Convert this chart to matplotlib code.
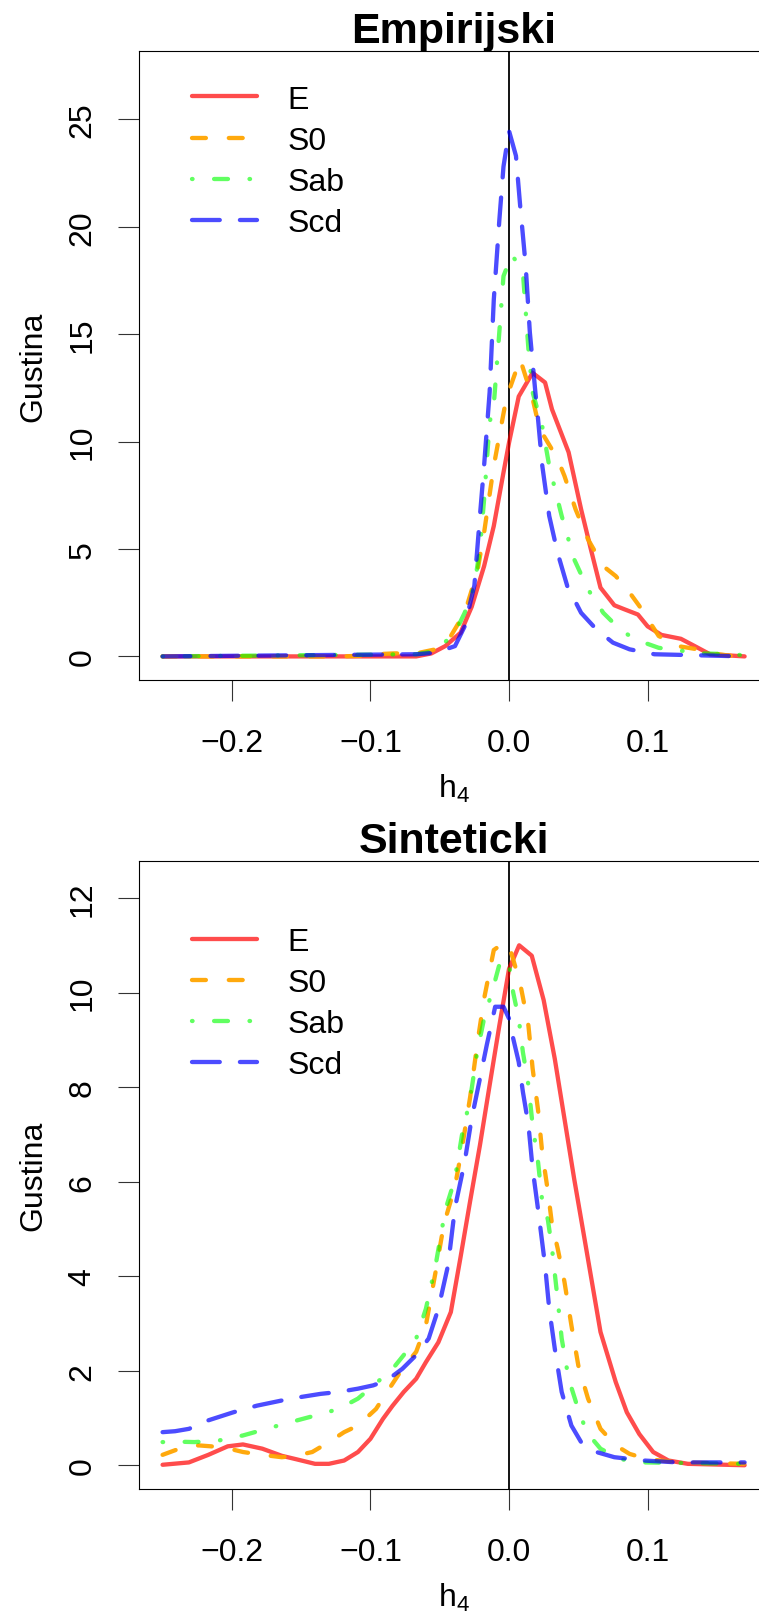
import matplotlib
matplotlib.use("Agg")
import matplotlib.pyplot as plt

# ---- data (density of h4) ----
series_names = ["E", "S0", "Sab", "Scd"]

# Empirijski
emp_e_x = [-0.25, -0.07, -0.067, -0.056, -0.046, -0.035, -0.027, -0.018, -0.011, -0.004, 0.0, 0.007,
           0.017, 0.026, 0.031, 0.043, 0.052, 0.059, 0.066, 0.076, 0.083, 0.093, 0.1, 0.11, 0.124,
           0.134, 0.145, 0.17]
emp_e_y = [0, 0, 0, 0.14, 0.48, 1.1, 2.3, 4.2, 6.07, 8.56, 9.95, 12.1,
           13.2, 12.75, 11.5, 9.5, 6.85, 5.0, 3.2, 2.38, 2.2, 1.95, 1.4, 1.0, 0.82,
           0.48, 0.1, 0.0]

emp_s0_x = [-0.25, -0.12, -0.1, -0.09, -0.083, -0.067, -0.053, -0.042, -0.032, -0.023, -0.018, -0.011,
            -0.002, 0.008, 0.017, 0.022, 0.035, 0.04, 0.048, 0.057, 0.068, 0.077, 0.087, 0.094,
            0.108, 0.122, 0.136, 0.146, 0.16, 0.17]
emp_s0_y = [0, 0, 0.05, 0.12, 0.14, 0.14, 0.33, 0.95, 2.03, 3.9, 5.76, 8.87,
            12.0, 13.84, 12.0, 10.6, 9.2, 8.4, 6.85, 5.45, 4.2, 3.74, 2.97, 2.35,
            0.95, 0.48, 0.33, 0.14, 0.03, 0]

emp_sab_x = [-0.25, -0.067, -0.053, -0.039, -0.032, -0.025, -0.021, -0.018, -0.014, -0.011, -0.007,
             -0.004, 0.002, 0.01, 0.014, 0.017, 0.024, 0.029, 0.038, 0.047, 0.057, 0.068, 0.08,
             0.091, 0.108, 0.126, 0.14, 0.16, 0.17]
emp_sab_y = [0, 0.1, 0.25, 1.1, 2.03, 3.3, 5.0, 7.3, 10.9, 11.7, 15.1,
             17.7, 18.7, 17.9, 14.3, 12.3, 10.7, 8.87, 6.54, 4.52, 3.12, 2.03, 1.26,
             0.79, 0.4, 0.25, 0.14, 0.1, 0.05]

emp_scd_x = [-0.25, -0.067, -0.053, -0.039, -0.032, -0.025, -0.021, -0.018, -0.014, -0.011, -0.007,
             -0.004, 0.0, 0.005, 0.008, 0.012, 0.015, 0.019, 0.021, 0.024, 0.029, 0.035, 0.042,
             0.052, 0.063, 0.075, 0.087, 0.105, 0.17]
emp_scd_y = [0, 0.1, 0.17, 0.48, 1.4, 3.3, 6.54, 8.87, 12.3, 16.6, 20.3,
             22.8, 24.46, 23.3, 21.0, 18.2, 15.1, 12.3, 11.0, 8.87, 6.54, 4.83, 3.28,
             2.03, 1.26, 0.64, 0.33, 0.1, 0.0]

# Sinteticki
sin_e_x = [-0.25, -0.231, -0.217, -0.203, -0.192, -0.178, -0.164, -0.154, -0.14, -0.13, -0.119, -0.109,
           -0.1, -0.091, -0.084, -0.076, -0.067, -0.06, -0.051, -0.042, -0.035, -0.028, -0.021,
           -0.014, -0.007, 0.0, 0.0073, 0.0164, 0.025, 0.033, 0.04, 0.047, 0.054, 0.066, 0.077,
           0.085, 0.094, 0.104, 0.115, 0.129, 0.17]
sin_e_y = [0.01, 0.06, 0.22, 0.4, 0.44, 0.35, 0.2, 0.13, 0.03, 0.03, 0.1, 0.28,
           0.56, 0.98, 1.26, 1.55, 1.83, 2.18, 2.6, 3.24, 4.4, 5.6, 6.77,
           8.04, 9.3, 10.5, 11.0, 10.78, 9.84, 8.6, 7.33, 6.06, 4.87, 2.82, 1.76,
           1.12, 0.66, 0.28, 0.1, 0.03, 0.0]

sin_s0_x = [-0.25, -0.238, -0.224, -0.206, -0.192, -0.178, -0.164, -0.154, -0.142, -0.13, -0.119,
            -0.109, -0.096, -0.088, -0.077, -0.067, -0.06, -0.053, -0.047, -0.039, -0.034, -0.028,
            -0.023, -0.018, -0.011, -0.004, 0.0, 0.003, 0.008, 0.014, 0.017, 0.021, 0.024, 0.028,
            0.031, 0.035, 0.04, 0.045, 0.05, 0.057, 0.066, 0.077, 0.087, 0.1, 0.122, 0.17]
sin_s0_y = [0.22, 0.35, 0.42, 0.38, 0.28, 0.22, 0.17, 0.2, 0.28, 0.49, 0.7,
            0.84, 1.19, 1.55, 2.04, 2.4, 2.96, 4.09, 5.1, 5.9, 6.7, 7.8,
            8.9, 9.87, 10.9, 11.05, 11.0, 10.7, 10.2, 9.3, 8.4, 7.5, 6.6, 5.8,
            5.1, 4.6, 3.88, 2.96, 2.11, 1.41, 0.77, 0.42, 0.24, 0.13, 0.06, 0.03]

sin_sab_x = [-0.25, -0.241, -0.227, -0.21, -0.192, -0.175, -0.158, -0.14, -0.123, -0.109, -0.095,
             -0.084, -0.076, -0.067, -0.06, -0.053, -0.046, -0.039, -0.034, -0.028, -0.023, -0.018,
             -0.011, -0.006, 0.0, 0.003, 0.007, 0.01, 0.014, 0.017, 0.021, 0.024, 0.028, 0.031,
             0.035, 0.038, 0.043, 0.049, 0.056, 0.066, 0.08, 0.097, 0.17]
sin_sab_y = [0.49, 0.5, 0.49, 0.52, 0.63, 0.77, 0.91, 1.05, 1.19, 1.41, 1.76,
             2.04, 2.33, 2.68, 3.31, 4.23, 5.4, 6.06, 6.98, 7.76, 8.74, 9.45,
             10.15, 10.7, 10.6, 10.0, 9.45, 8.74, 8.04, 7.2, 6.4, 5.57, 5.2, 4.59,
             3.53, 2.68, 1.83, 1.27, 0.7, 0.35, 0.13, 0.06, 0.03]

sin_scd_x = [-0.25, -0.241, -0.231, -0.217, -0.199, -0.182, -0.164, -0.151, -0.136, -0.123, -0.109,
             -0.098, -0.088, -0.077, -0.067, -0.058, -0.051, -0.044, -0.039, -0.032, -0.027, -0.021,
             -0.016, -0.01, -0.004, 0.0, 0.003, 0.007, 0.01, 0.014, 0.017, 0.021, 0.026, 0.029,
             0.033, 0.038, 0.045, 0.052, 0.063, 0.076, 0.097, 0.122, 0.16, 0.17]
sin_scd_y = [0.7, 0.72, 0.77, 0.95, 1.12, 1.26, 1.37, 1.44, 1.51, 1.55, 1.62,
             1.69, 1.8, 2.04, 2.33, 2.68, 3.31, 4.23, 5.45, 6.42, 7.33, 8.18,
             8.9, 9.7, 9.7, 9.45, 9.03, 8.53, 7.9, 7.2, 6.28, 5.4, 4.23, 3.31,
             2.47, 1.55, 0.84, 0.49, 0.28, 0.17, 0.1, 0.06, 0.06, 0.06]

x_ticks = [-0.2, -0.1, 0.0, 0.1]
emp_y_ticks = [0, 5, 10, 15, 20, 25]
sin_y_ticks = [0, 2, 4, 6, 8, 10, 12]

# R-ish styles: solid, dashed, dotdash, longdash
colors = [(1, 0, 0, 0.7), (1, 0.647, 0, 0.95), (0, 1, 0, 0.62), (0, 0, 1, 0.7)]
dashes = [None, (10, 16.5), (0.4, 15.5, 10, 15.5), (20, 14.5)]

plt.rcParams["font.family"] = ["Liberation Sans", "DejaVu Sans"]
plt.rcParams["lines.scale_dashes"] = False

fig = plt.figure(figsize=(7.59, 16.15), dpi=100)

W, H = 759.0, 1615.0
left_px, right_px = 139.3, 767.9


def make_axes(top_px, bottom_px):
    return fig.add_axes([left_px / W, 1 - bottom_px / H,
                         (right_px - left_px) / W, (bottom_px - top_px) / H])


def draw_panel(ax, title, xs, ys, ylim, yticks, leg_top):
    ax.axvline(0, color="black", lw=1.3, zorder=1)
    for x, y, c, d, name in zip(xs, ys, colors, dashes, series_names):
        line, = ax.plot(x, y, color=c, lw=3.1, label=name, zorder=2,
                        solid_capstyle="round", dash_capstyle="round")
        if d is not None:
            line.set_dashes(d)
    ax.set_xlim(-0.2668, 0.1868)
    ax.set_ylim(*ylim)
    ax.set_xticks(x_ticks)
    ax.set_xticklabels([f"{t:.1f}".replace("-", "\u2212") for t in x_ticks])
    ax.set_yticks(yticks)
    ax.set_yticklabels([str(t) for t in yticks])
    ax.tick_params(axis="both", labelsize=23, length=15, width=0.8, color="#333333")
    ax.tick_params(axis="x", pad=20)
    ax.tick_params(axis="y", pad=15, labelrotation=90)
    for lab in ax.get_yticklabels():
        lab.set_va("center")
    ax.spines["right"].set_visible(False)
    for s in ["left", "top", "bottom"]:
        ax.spines[s].set_linewidth(0.8)
    ax.set_title(title, fontsize=31, fontweight="bold", pad=5)
    ax.set_xlabel("$\\mathregular{h_4}$", fontsize=23, labelpad=10)
    ax.set_ylabel("Gustina", fontsize=23, labelpad=14)
    ax.legend(loc="upper left", bbox_to_anchor=(0.0838, leg_top), frameon=False,
              fontsize=23, handlelength=2.03, handletextpad=0.97, labelspacing=0.35,
              borderpad=0, borderaxespad=0)


ax1 = make_axes(52.0, 680.7)
draw_panel(ax1, "Empirijski",
           [emp_e_x, emp_s0_x, emp_sab_x, emp_scd_x],
           [emp_e_y, emp_s0_y, emp_sab_y, emp_scd_y],
           (-1.084, 28.18), emp_y_ticks, 0.9465)

ax2 = make_axes(861.7, 1489.5)
draw_panel(ax2, "Sinteticki",
           [sin_e_x, sin_s0_x, sin_sab_x, sin_scd_x],
           [sin_e_y, sin_s0_y, sin_sab_y, sin_scd_y],
           (-0.492, 12.79), sin_y_ticks, 0.8945)

fig.savefig("out.png", dpi=100)
